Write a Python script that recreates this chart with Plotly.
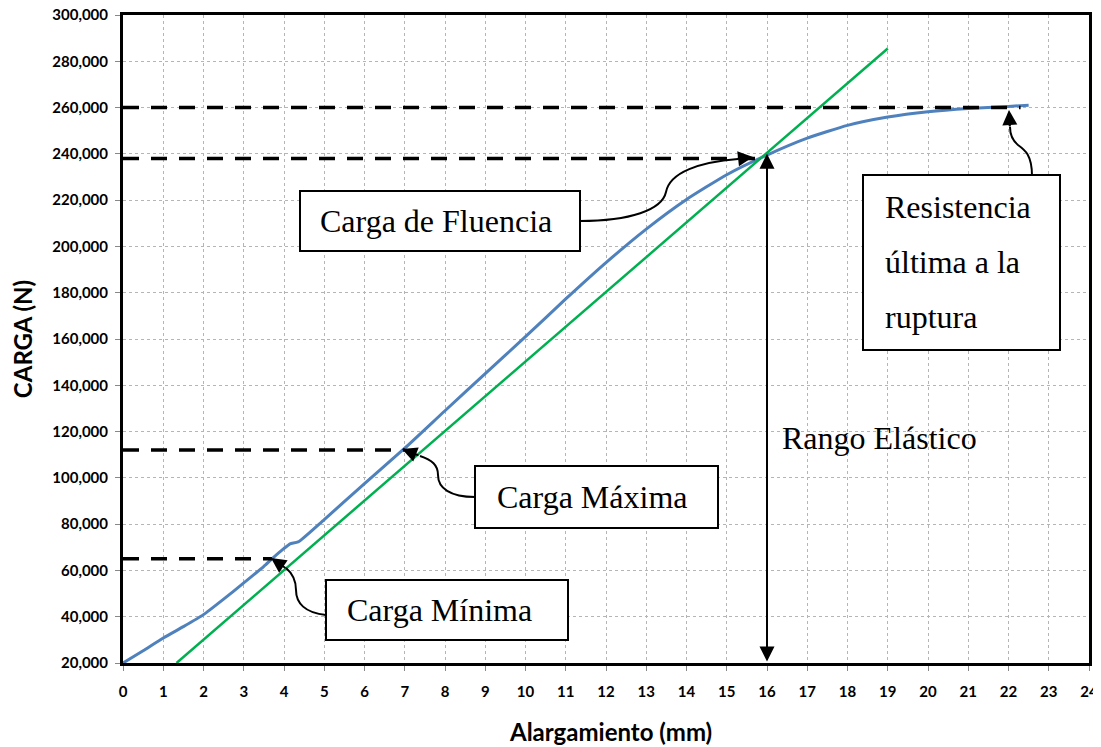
import plotly.graph_objects as go

# ── Data ────────────────────────────────────────────────────────────────────
# Load-elongation curve (blue)
ELONG_MM = [0, 0.5, 1, 1.5, 2, 2.5, 3, 3.5, 3.7, 4.0, 4.15, 4.35, 5, 6, 7, 8, 9, 10,
            11, 12, 13, 14, 15, 16, 17, 18, 19, 20, 21, 22, 22.5]
LOAD_N = [20000, 25300, 30800, 35700, 40900, 47600, 54600, 61800, 65000, 69500, 71500,
          72300, 82000, 97500, 112800, 129000, 145000, 161000, 177300, 193000, 207500,
          220300, 231000, 239500, 246800, 252300, 255900, 258200, 259600, 260500, 261000]

# Elastic reference line (green)
ELASTIC_X = [1.33, 19.0]
ELASTIC_Y = [20000, 285500]

# Dashed reference levels: load value and where the dashes stop
REF_LOADS = [260000, 238000, 112000, 65000]
REF_ENDS = [22.3, 16.0, 7.0, 3.7]

Y_TICKS = list(range(20000, 300001, 20000))
X_TICKS = list(range(0, 25))

FONT_AX = "Lato, 'Open Sans', Arial, sans-serif"
FONT_TXT = "'Liberation Serif', 'Times New Roman', serif"

# Plot area in screen pixels (used to place the hand-drawn callouts)
PX_L, PX_R, PX_T, PX_B = 123, 1089, 15, 663
PAGE_OFF = 8          # default body margin of the html page
FIG_W, FIG_H = 1093, 739


def dx(px):
    return (px - PX_L) / (PX_R - PX_L) * 24


def dy(py):
    return 20000 + (PX_B - py) / (PX_B - PX_T) * 280000


def path(pts):
    # pts: list of ("M"|"C", [(px,py), ...]) in pixel coords -> data path
    out = []
    for cmd, ps in pts:
        out.append(cmd + " " + " ".join(f"{dx(a):.4f},{dy(b):.1f}" for a, b in ps))
    return " ".join(out)


fig = go.Figure()

fig.add_trace(go.Scatter(
    x=ELONG_MM, y=LOAD_N, mode="lines",
    line=dict(color="#4F81BD", width=3, shape="spline", smoothing=0.5),
    showlegend=False,
))
fig.add_trace(go.Scatter(
    x=ELASTIC_X, y=ELASTIC_Y, mode="lines",
    line=dict(color="#00B050", width=2.5),
    showlegend=False,
))
for load, end in zip(REF_LOADS, REF_ENDS):
    fig.add_trace(go.Scatter(
        x=[0, end], y=[load, load], mode="lines",
        line=dict(color="black", width=3.5, dash="16px,12px"),
        showlegend=False,
    ))

# ── Callout boxes ────────────────────────────────────────────────────────────
BOXES = [
    (300, 191, 580, 251),   # Carga de Fluencia
    (475, 466, 718, 528),   # Carga Máxima
    (326, 580, 568, 640),   # Carga Mínima
    (863, 175, 1060, 350),  # Resistencia
]
for x0, y0, x1, y1 in BOXES:
    fig.add_shape(type="rect", xref="x", yref="y",
                  x0=dx(x0), x1=dx(x1), y0=dy(y1), y1=dy(y0),
                  line=dict(color="black", width=2), fillcolor="white")

# Curved connectors
CURVES = [
    [("M", [(580, 221)]), ("C", [(630, 221), (662, 210), (666, 192)]),
     ("C", [(670, 172), (700, 162), (738, 159)])],
    [("M", [(475, 497)]), ("C", [(450, 497), (438, 488), (438, 475)]),
     ("C", [(438, 465), (432, 460), (420, 456)])],
    [("M", [(326, 615)]), ("C", [(305, 613), (296, 603), (296, 590)]),
     ("C", [(296, 580), (292, 573), (286, 568)])],
    [("M", [(1032, 176)]), ("C", [(1032, 155), (1025, 150), (1018, 145)]),
     ("C", [(1012, 140), (1010, 135), (1010, 127)])],
]
for c in CURVES:
    fig.add_shape(type="path", xref="x", yref="y", path=path(c),
                  line=dict(color="black", width=2))

# Arrow heads: (tip px, tail px)
HEADS = [((753, 157), (736, 159)), ((402, 449), (420, 456)),
         ((271, 558), (287, 569)), ((1009, 110), (1010, 128))]
for (tx, ty), (sx, sy) in HEADS:
    fig.add_annotation(x=dx(tx), y=dy(ty), ax=dx(sx), ay=dy(sy),
                       axref="x", ayref="y", xref="x", yref="y", text="",
                       showarrow=True, arrowhead=2, arrowsize=1.5, arrowwidth=2,
                       arrowcolor="black")

# Elastic range double arrow
fig.add_annotation(x=16, y=240000, ax=16, ay=20000, axref="x", ayref="y",
                   xref="x", yref="y", text="", showarrow=True,
                   arrowhead=2, startarrowhead=2, arrowside="end+start",
                   arrowsize=1.5, startarrowsize=1.5, arrowwidth=2,
                   arrowcolor="black")

TEXTS = [
    ("Carga de Fluencia", 436, 221, "center"),
    ("Carga Máxima", 592, 497, "center"),
    ("Carga Mínima", 439, 610, "center"),
    ("Rango Elástico", 780, 438, "left"),
    ("Resistencia", 883, 207, "left"),
    ("última a la", 883, 262, "left"),
    ("ruptura", 883, 317, "left"),
]
for t, px, py, anc in TEXTS:
    fig.add_annotation(x=dx(px), y=dy(py), xref="x", yref="y", text=t,
                       showarrow=False, xanchor=anc, yanchor="middle",
                       font=dict(family=FONT_TXT, size=32, color="black"))

# x-axis title placed as paper annotation (axis title standoff is ignored
# when automargin is off)
fig.add_annotation(x=(610 - PX_L) / (PX_R - PX_L),
                   y=(PX_B - 731) / (PX_B - PX_T),
                   xref="paper", yref="paper", text="<b>Alargamiento (mm)</b>",
                   showarrow=False, xanchor="center", yanchor="middle",
                   font=dict(family=FONT_AX, size=24, color="black"))

axis_common = dict(
    showline=True, mirror=True, linewidth=3, linecolor="black",
    showgrid=True, gridcolor="#b5b5b5", gridwidth=1, griddash="dot",
    ticks="outside", ticklen=5, tickcolor="#888", zeroline=False,
    automargin=False, ticklabeloverflow="allow",
    tickfont=dict(family=FONT_AX, size=15, color="black", weight="bold"),
)

fig.update_layout(
    width=FIG_W, height=FIG_H,
    margin=dict(l=PX_L - PAGE_OFF, r=FIG_W - (PX_R - PAGE_OFF),
                t=PX_T - PAGE_OFF, b=FIG_H - (PX_B - PAGE_OFF)),
    plot_bgcolor="white", paper_bgcolor="white",
    xaxis=dict(range=[0, 24], tickvals=X_TICKS, ticklabelstandoff=8,
               **axis_common),
    yaxis=dict(
        range=[20000, 300000], tickvals=Y_TICKS, tickformat=",",
        ticklabelstandoff=4,
        title=dict(text="<b>CARGA (N)</b>", standoff=14,
                   font=dict(family=FONT_AX, size=24, color="black")),
        **axis_common,
    ),
)

fig.write_html("out.html")
